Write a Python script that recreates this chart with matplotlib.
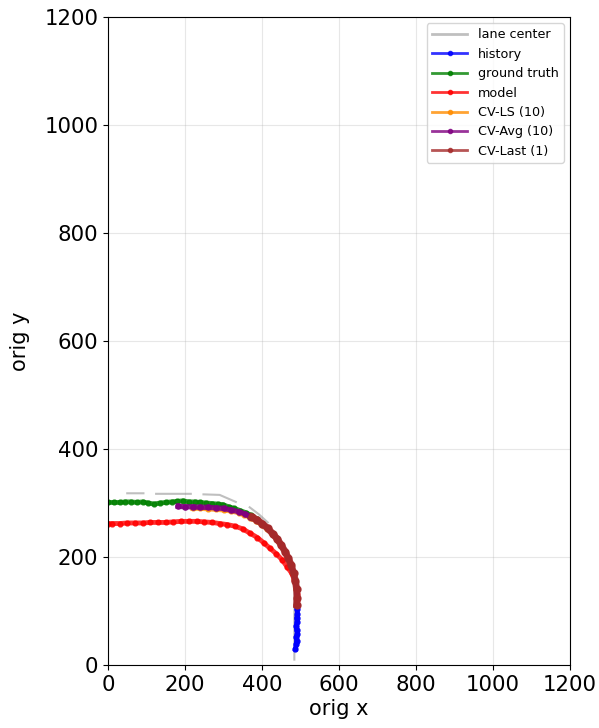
import numpy as np
import matplotlib
matplotlib.use("Agg")
import matplotlib.pyplot as plt

nan = np.nan

# lane center (pieces separated by nan)
lane_x = [50, 92, nan, 125, 215, nan, 248, 290, 332, nan, 368, 392, 415, nan, 485, 484, 484]
lane_y = [318, 318, nan, 317, 317, nan, 316, 315, 302, nan, 292, 279, 264, nan, 140, 90, 10]

# observed history
hist_x = [487, 489, 490, 489, 492, 490, 489, 491, 490, 492, 491, 491]
hist_y = [30, 38, 45, 52, 58, 65, 72, 80, 87, 95, 103, 112]

# ground truth future
gt_x = [491, 492, 490, 487, 482, 476, 468, 460, 450, 440, 428, 415, 400, 386, 372, 358,
        343, 328, 313, 298, 285, 270, 255, 240, 225, 210, 195, 180, 165, 150, 135, 120,
        105, 90, 75, 60, 45, 30, 15, 0]
gt_y = [112, 125, 140, 155, 170, 185, 198, 210, 222, 233, 243, 253, 262, 270, 277, 282,
        286, 290, 293, 297, 298, 299, 300, 301, 302, 302, 304, 303, 302, 301, 300, 298,
        300, 302, 301, 302, 302, 301, 301, 301]

# model prediction
model_x = [490, 491, 489, 484, 477, 465, 452, 437, 421, 405, 388, 369, 350, 330, 310, 290,
           270, 250, 230, 210, 190, 170, 150, 130, 110, 90, 70, 50, 30, 10, 0]
model_y = [120, 132, 145, 158, 170, 182, 195, 206, 216, 226, 236, 244, 252, 257, 260, 262,
           264, 265, 266, 266, 266, 265, 264, 264, 264, 263, 263, 263, 262, 262, 262]

# constant velocity baselines
cvls_x = [490, 491, 489, 486, 481, 475, 467, 459, 449, 439, 427, 414, 399, 384, 369, 354,
          339, 320, 300, 280, 260, 240, 220]
cvls_y = [112, 125, 140, 155, 170, 184, 197, 209, 221, 232, 242, 252, 260, 267, 273, 278,
          282, 285, 287, 288, 289, 290, 290]

cvavg_x = [490, 491, 490, 487, 482, 476, 468, 460, 450, 440, 428, 415, 400, 385, 370, 355,
           340, 320, 300, 280, 260, 240, 220, 200, 182]
cvavg_y = [112, 125, 140, 155, 170, 185, 198, 210, 222, 233, 243, 253, 262, 269, 275, 280,
           284, 287, 290, 291, 292, 292, 293, 293, 294]

cvlast_x = [490, 491, 490, 487, 482, 476, 468, 460, 450, 440, 428, 415, 400, 387, 374]
cvlast_y = [112, 125, 140, 155, 170, 185, 198, 210, 222, 233, 243, 253, 262, 269, 274]

fig = plt.figure(figsize=(5.99, 7.28), dpi=100)
ax = fig.add_axes([108 / 599, 63 / 728, 462 / 599, 648 / 728])

ax.plot(lane_x, lane_y, color="gray", alpha=0.5, lw=1.5, label="lane center")
ax.plot(hist_x, hist_y, "o-", color="blue", lw=3.5, ms=3.5, label="history")
ax.plot(gt_x, gt_y, "o-", color="green", alpha=0.8, lw=3.5, ms=3.5, label="ground truth")
ax.plot(model_x, model_y, "o-", color="red", alpha=0.8, lw=3.5, ms=3.5, label="model")
ax.plot(cvls_x, cvls_y, "o-", color="darkorange", alpha=0.75, lw=3.5, ms=3.5, label="CV-LS (10)")
ax.plot(cvavg_x, cvavg_y, "o-", color="purple", alpha=0.9, lw=3.8, ms=3.8, label="CV-Avg (10)")
ax.plot(cvlast_x, cvlast_y, "o-", color="brown", alpha=0.9, lw=5, ms=5, label="CV-Last (1)")

ax.set_xlim(0, 1200)
ax.set_ylim(0, 1200)
ax.set_xticks(range(0, 1201, 200))
ax.set_yticks(range(0, 1201, 200))
ax.tick_params(labelsize=15.3)
ax.set_xlabel("orig x", fontsize=15, labelpad=3)
ax.set_ylabel("orig y", fontsize=15, labelpad=10)
ax.grid(True, alpha=0.3)
leg = ax.legend(loc="upper right", fontsize=9.2, handlelength=2.8)
for h in leg.legend_handles:
    h.set_linewidth(2)
    h.set_markersize(3)
    h.set_alpha(0.8 if h.get_label() != "lane center" else 0.5)

fig.savefig("out.png", dpi=100)
